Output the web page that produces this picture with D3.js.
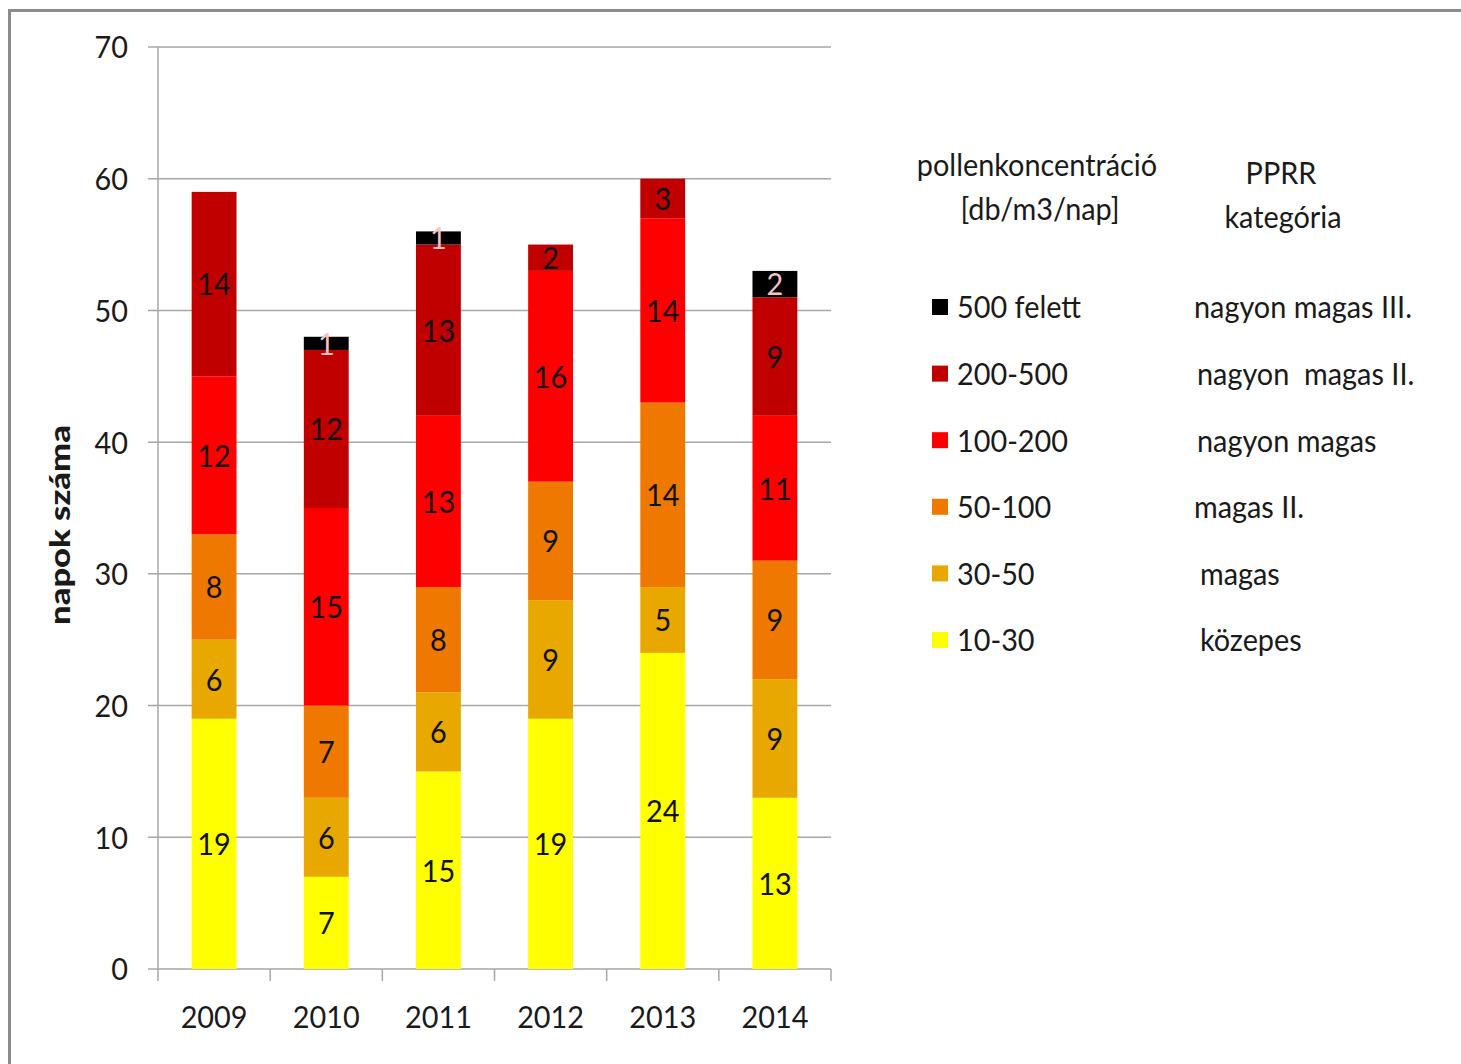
<!DOCTYPE html>
<meta charset="utf-8">
<style>
  body { margin: 0; background: #fff; }
  text { font-family: "Lato", "Open Sans", sans-serif; fill: #1a1a1a; }
  .grid line { stroke: #a6a6a6; stroke-width: 1.5; }
  .axis path, .axis line { stroke: #a6a6a6; stroke-width: 1.5; }
</style>
<body>
<script src="https://cdnjs.cloudflare.com/ajax/libs/d3/7.8.5/d3.min.js"></script>
<script>
  // data
  const years = ['2009', '2010', '2011', '2012', '2013', '2014']
  const cat10_30 = [19, 7, 15, 19, 24, 13]
  const cat30_50 = [6, 6, 6, 9, 5, 9]
  const cat50_100 = [8, 7, 8, 9, 14, 9]
  const cat100_200 = [12, 15, 13, 16, 14, 11]
  const cat200_500 = [14, 12, 13, 2, 3, 9]
  const cat500 = [0, 1, 1, 0, 0, 2]

  const seriesKeys = ['10-30', '30-50', '50-100', '100-200', '200-500', '500 felett']
  const seriesVals = [cat10_30, cat30_50, cat50_100, cat100_200, cat200_500, cat500]
  const seriesColors = ['#ffff00', '#e8a800', '#ee7800', '#ff0000', '#c00000', '#000000']
  const categoryNames = ['közepes', 'magas', 'magas II.', 'nagyon magas', 'nagyon  magas II.', 'nagyon magas III.']
  const yTicks = [0, 10, 20, 30, 40, 50, 60, 70]

  var rows = years.map(function (yr, i) {
    var r = { year: yr }
    seriesKeys.forEach(function (k, j) { r[k] = seriesVals[j][i] })
    return r
  })

  var W = 1461, H = 1064
  var svg = d3.select('body').append('svg')
    .attr('width', W)
    .attr('height', H)

  // outer frame
  svg.append('rect')
    .attr('x', 9.5).attr('y', 10.5)
    .attr('width', W + 20).attr('height', H + 20)
    .attr('fill', 'none')
    .attr('stroke', '#8c8c8c')
    .attr('stroke-width', 3)

  var plotL = 158, plotR = 831, plotT = 47, plotB = 969

  var x = d3.scaleBand()
    .domain(years)
    .range([plotL, plotR])
    .paddingInner(0.6)
    .paddingOuter(0.3)

  var xEdge = d3.scaleLinear().domain([0, years.length]).range([plotL, plotR])

  var y = d3.scaleLinear()
    .domain([0, 70])
    .range([plotB, plotT])

  // text is tall in the reference, stretch it a little
  function tall(sel) {
    return sel.attr('transform', function () {
      var t = d3.select(this)
      var px = +t.attr('x'), py = +t.attr('y')
      return 'translate(' + px + ',' + py + ') scale(1.03,1.13) translate(' + (-px) + ',' + (-py) + ')'
    })
  }

  // gridlines
  svg.append('g')
    .attr('class', 'grid')
    .selectAll('line')
    .data(yTicks)
    .enter().append('line')
    .attr('x1', plotL - 10)
    .attr('x2', plotR)
    .attr('y1', d => y(d))
    .attr('y2', d => y(d))

  // y axis line
  svg.append('line')
    .attr('x1', plotL).attr('x2', plotL)
    .attr('y1', plotT).attr('y2', plotB)
    .attr('stroke', '#a6a6a6').attr('stroke-width', 1.5)

  // y tick labels
  svg.append('g')
    .selectAll('text')
    .data(yTicks)
    .enter().append('text')
    .attr('x', plotL - 30)
    .attr('y', d => y(d))
    .attr('dy', '0.36em')
    .attr('text-anchor', 'end')
    .attr('font-size', 28)
    .text(d => d)
    .call(tall)

  // x tick marks
  svg.append('g')
    .attr('class', 'axis')
    .selectAll('line')
    .data(d3.range(years.length + 1))
    .enter().append('line')
    .attr('x1', d => xEdge(d))
    .attr('x2', d => xEdge(d))
    .attr('y1', plotB)
    .attr('y2', plotB + 12)

  // x labels
  svg.append('g')
    .selectAll('text')
    .data(years)
    .enter().append('text')
    .attr('x', d => x(d) + x.bandwidth() / 2)
    .attr('y', 1017)
    .attr('dy', '0.36em')
    .attr('text-anchor', 'middle')
    .attr('font-size', 28)
    .text(d => d)
    .call(tall)

  var stack = d3.stack().keys(seriesKeys)(rows)

  var layers = svg.append('g')
    .selectAll('g')
    .data(stack)
    .enter().append('g')
    .attr('fill', (d, i) => seriesColors[i])

  layers.selectAll('rect')
    .data(d => d.filter(s => s[1] > s[0]))
    .enter().append('rect')
    .attr('x', d => x(d.data.year))
    .attr('width', x.bandwidth())
    .attr('y', d => y(d[1]))
    .attr('height', d => y(d[0]) - y(d[1]))

  // segment labels
  stack.forEach(function (layer, i) {
    svg.append('g')
      .selectAll('text')
      .data(layer.filter(s => s[1] > s[0]))
      .enter().append('text')
      .attr('x', d => x(d.data.year) + x.bandwidth() / 2)
      .attr('y', d => (y(d[0]) + y(d[1])) / 2)
      .attr('dy', '0.36em')
      .attr('text-anchor', 'middle')
      .attr('font-size', 28)
      .style('fill', i === 5 ? '#f2c4c4' : '#111')
      .text(d => d[1] - d[0])
      .call(tall)
  })

  // y axis title
  svg.append('text')
    .attr('transform', 'translate(60,525) rotate(-90) scale(1.28,1.05)')
    .attr('dy', '0.36em')
    .attr('text-anchor', 'middle')
    .attr('font-size', 27)
    .attr('font-weight', 900)
    .text('napok száma')

  // legend headers
  var headers = [
    { t: 'pollenkoncentráció', x: 1037, y: 165 },
    { t: '[db/m3/nap]', x: 1040, y: 209 },
    { t: 'PPRR', x: 1281, y: 173 },
    { t: 'kategória', x: 1283, y: 217 }
  ]
  svg.append('g')
    .selectAll('text')
    .data(headers)
    .enter().append('text')
    .attr('x', d => d.x)
    .attr('y', d => d.y)
    .attr('dy', '0.36em')
    .attr('text-anchor', 'middle')
    .attr('font-size', 28)
    .text(d => d.t)
    .call(tall)

  // legend rows, top = last series
  var legendIdx = d3.range(seriesKeys.length).reverse()
  var catX = [1200, 1200, 1194, 1197, 1197, 1194]
  var legend = svg.append('g')
    .selectAll('g')
    .data(legendIdx)
    .enter().append('g')
    .attr('transform', (d, i) => 'translate(0,' + (307 + i * 66.6) + ')')

  legend.append('rect')
    .attr('x', 932).attr('y', -8)
    .attr('width', 16).attr('height', 16)
    .attr('fill', d => seriesColors[d])

  legend.append('text')
    .attr('x', 957)
    .attr('y', 0)
    .attr('dy', '0.36em')
    .attr('font-size', 28)
    .text(d => seriesKeys[d])
    .call(tall)

  legend.append('text')
    .attr('x', d => catX[d])
    .attr('y', 0)
    .attr('dy', '0.36em')
    .attr('font-size', 28)
    .style('white-space', 'pre')
    .text(d => categoryNames[d])
    .call(tall)
</script>
</body>
